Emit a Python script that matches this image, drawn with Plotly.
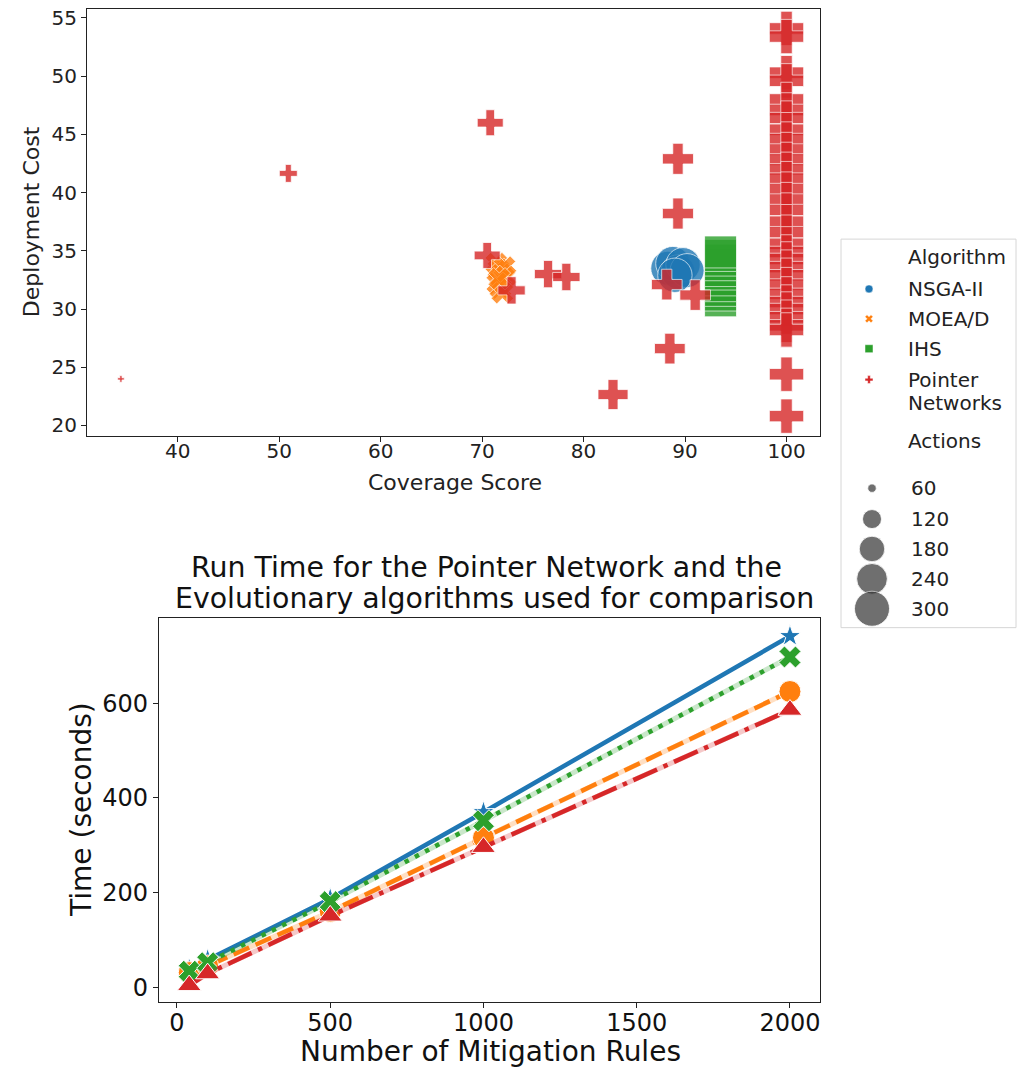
import numpy as np
import plotly.graph_objects as go

W, H = 1030, 1069
FONT = "DejaVu Sans"

# ---------------- Top chart data (Coverage vs Cost) ----------------
algorithms = ["NSGA-II", "MOEA/D", "IHS", "Pointer Networks"]
colors = ["#1f77b4", "#ff7f0e", "#2ca02c", "#d62728"]
symbols = ["circle", "x", "square", "cross"]

nsga_cov = [88.3, 88.8, 89.3, 89.8, 90.2, 89.0]
nsga_cost = [33.5, 33.9, 33.2, 33.8, 33.3, 32.9]
nsga_actions = [285, 290, 285, 290, 285, 290]

moea_cov = [71.4, 71.6, 71.9, 72.2, 72.3, 71.5, 71.8, 72.0, 71.7]
moea_cost = [33.9, 33.4, 33.0, 33.6, 32.8, 32.2, 31.8, 31.4, 32.6]
moea_actions = [150, 150, 150, 150, 150, 150, 150, 150, 150]

ihs_cov = [93.5, 93.5, 93.5, 93.5, 93.5, 93.5, 93.5, 93.5, 93.5, 93.5, 93.5]
ihs_cost = [30.7, 31.2, 31.6, 32.0, 32.5, 33.0, 33.3, 33.8, 34.2, 34.6, 34.9]
ihs_actions = [257, 257, 257, 257, 257, 257, 257, 257, 257, 257, 257]

ptr_cov = [34.4, 50.9, 70.8, 70.5, 72.9, 76.5, 78.3, 82.9, 89.3, 89.3, 88.2, 91.0, 88.5,
           100, 100, 100, 100, 100, 100, 100, 100, 100, 100, 100, 100, 100, 100, 100, 100,
           100, 100, 100, 100, 100, 100, 100, 100, 100, 100, 100, 100, 100, 100, 100, 100]
ptr_cost = [24.0, 41.65, 46.0, 34.6, 31.6, 33.0, 32.75, 22.65, 42.9, 38.2, 32.1, 31.2, 26.6,
            54.1, 53.4, 50.3, 49.6, 48.0, 47.1, 46.4, 45.4, 44.6, 43.7, 42.85, 42.0, 41.2, 40.3,
            39.4, 38.5, 37.5, 36.6, 35.6, 34.9, 34.3, 33.6, 32.9, 32.1, 31.3, 30.6, 30.0, 29.3,
            28.6, 28.2, 24.4, 20.8]
ptr_actions = [55, 112, 185, 185, 200, 200, 200, 232, 245, 245, 240, 240, 240,
               290, 290, 290, 290, 290, 290, 290, 290, 290, 290, 290, 290, 290, 290, 290, 290,
               290, 290, 290, 290, 290, 290, 290, 290, 290, 290, 290, 290, 290, 290, 290, 290]

size_levels = [60, 120, 180, 240, 300]

# ---------------- Bottom chart data (Run time) ----------------
rules = [40, 100, 500, 1000, 2000]
nsga_time = [38, 58, 187, 370, 742]
moea_time = [31, 45, 160, 316, 625]
ihs_time = [34, 52, 181, 352, 698]
ptr_time = [4, 29, 151, 296, 586]

run_symbols = ["star", "circle", "x", "triangle-up"]
run_dash = ["solid", "17px,7px", "4.5px,7px", "26px,7px,4.5px,7px"]
run_halo = [None, "rgba(255,127,14,0.25)", "rgba(44,160,44,0.25)", "rgba(214,39,40,0.25)"]
run_marker_px = [22, 22, 22, 24]

SYM_FACTOR = {"circle": 1.0, "square": 1.0, "cross": 1.2, "x": 1.13,
              "star": 1.33, "triangle-up": 1.15}


def extent_px(actions):
    a = np.asarray(actions, dtype=float)
    return np.sqrt(np.maximum(72 + (a - 60) * 4.82, 30))


def px(x):
    return x / W


def py(y):
    return 1 - y / H


fig = go.Figure()

top_data = [(nsga_cov, nsga_cost, nsga_actions), (moea_cov, moea_cost, moea_actions),
            (ihs_cov, ihs_cost, ihs_actions), (ptr_cov, ptr_cost, ptr_actions)]
for name, col, sym, (cx, cy, ca) in zip(algorithms, colors, symbols, top_data):
    fig.add_trace(go.Scatter(
        x=cx, y=cy, mode="markers", name=name, showlegend=False,
        xaxis="x", yaxis="y",
        marker=dict(symbol=sym, color=col, opacity=0.8,
                    size=extent_px(ca) / SYM_FACTOR[sym],
                    line=dict(color="white", width=0.8)),
    ))

bottom_data = [nsga_time, moea_time, ihs_time, ptr_time]
for name, col, sym, dash, halo, mpx, t in zip(algorithms, colors, run_symbols, run_dash,
                                              run_halo, run_marker_px, bottom_data):
    if halo:
        fig.add_trace(go.Scatter(x=rules, y=t, mode="lines", showlegend=False,
                                 xaxis="x2", yaxis="y2", hoverinfo="skip",
                                 line=dict(color=halo, width=5)))
    fig.add_trace(go.Scatter(
        x=rules, y=t, mode="lines+markers", name=name, showlegend=False,
        xaxis="x2", yaxis="y2",
        line=dict(color=col, width=4.5, dash=dash),
        marker=dict(symbol=sym, color=col, size=mpx / SYM_FACTOR[sym],
                    line=dict(color="white", width=1)),
    ))

# ---------------- Custom legend panel ----------------
alg_y = [50, 80, 110, 141]
for name, col, sym, yy in zip(algorithms, colors, symbols, alg_y):
    fig.add_trace(go.Scatter(x=[28], y=[yy], mode="markers", showlegend=False,
                             xaxis="x3", yaxis="y3", hoverinfo="skip",
                             marker=dict(symbol=sym, color=col, size=8 / SYM_FACTOR[sym],
                                         line=dict(color="white", width=0.5))))
size_y = [250, 281, 311, 341, 371]
fig.add_trace(go.Scatter(x=[31] * len(size_levels), y=size_y, mode="markers", showlegend=False,
                         xaxis="x3", yaxis="y3", hoverinfo="skip",
                         marker=dict(symbol="circle", color="#333333",
                                     size=extent_px(size_levels),
                                     line=dict(color="white", width=0.8))))

annotations = []
leg_font = dict(family=FONT, size=20, color="#222")


def leg_text(x, y, text):
    annotations.append(dict(x=x, y=y, xref="x3", yref="y3", text=text, showarrow=False,
                            xanchor="left", yanchor="middle", font=leg_font))


leg_text(65, 18, "Algorithm")
leg_text(65, 50, "NSGA-II")
leg_text(65, 80, "MOEA/D")
leg_text(65, 110, "IHS")
leg_text(65, 141, "Pointer")
leg_text(65, 164, "Networks")
leg_text(65, 203, "Actions")
for lv, yy in zip(size_levels, size_y):
    leg_text(68, yy, str(lv))

# axis titles / chart title
annotations += [
    dict(x=px(455), y=py(481), xref="paper", yref="paper", text="Coverage Score",
         showarrow=False, xanchor="center", yanchor="middle",
         font=dict(family=FONT, size=22, color="#222")),
    dict(x=px(31), y=py(220), xref="paper", yref="paper", text="Deployment Cost",
         showarrow=False, xanchor="center", yanchor="middle", textangle=-90,
         font=dict(family=FONT, size=22, color="#222")),
    dict(x=px(490), y=py(1052), xref="paper", yref="paper", text="Number of Mitigation Rules",
         showarrow=False, xanchor="center", yanchor="middle",
         font=dict(family=FONT, size=28, color="#111")),
    dict(x=px(82), y=py(810), xref="paper", yref="paper", text="Time (seconds)",
         showarrow=False, xanchor="center", yanchor="middle", textangle=-90,
         font=dict(family=FONT, size=28, color="#111")),
    dict(x=px(486), y=py(567), xref="paper", yref="paper",
         text="Run Time for the Pointer Network and the",
         showarrow=False, xanchor="center", yanchor="middle",
         font=dict(family=FONT, size=28.4, color="#111")),
    dict(x=px(494), y=py(598), xref="paper", yref="paper",
         text="Evolutionary algorithms used for comparison",
         showarrow=False, xanchor="center", yanchor="middle",
         font=dict(family=FONT, size=28.4, color="#111")),
]

axis_common = dict(showline=True, linecolor="#222", linewidth=1.2, mirror=True,
                   ticks="outside", ticklen=5, tickwidth=1.2, tickcolor="#222",
                   showgrid=False, zeroline=False)

fig.update_layout(
    width=W, height=H,
    margin=dict(l=0, r=0, t=0, b=0),
    paper_bgcolor="white", plot_bgcolor="white",
    font=dict(family=FONT, color="#222"),
    showlegend=False,
    xaxis=dict(domain=[px(87), px(820)], range=[31.06, 103.3], anchor="y",
               tickvals=[40, 50, 60, 70, 80, 90, 100], ticklabelstandoff=-8,
               tickfont=dict(family=FONT, size=20, color="#222"), **axis_common),
    yaxis=dict(domain=[py(435), py(6)], range=[19.06, 55.77], anchor="x",
               tickvals=[20, 25, 30, 35, 40, 45, 50, 55],
               tickfont=dict(family=FONT, size=20, color="#222"), **axis_common),
    xaxis2=dict(domain=[px(159), px(820)], range=[-58.7, 2098], anchor="y2",
                tickvals=[0, 500, 1000, 1500, 2000], ticklabelstandoff=-6,
                tickfont=dict(family=FONT, size=24, color="#111"), **axis_common),
    yaxis2=dict(domain=[py(1003), py(617)], range=[-31.6, 781], anchor="x2",
                tickvals=[0, 200, 400, 600],
                tickfont=dict(family=FONT, size=24, color="#111"), **axis_common),
    xaxis3=dict(domain=[px(841), px(1016)], range=[0, 175], visible=False, anchor="y3",
                fixedrange=True),
    yaxis3=dict(domain=[py(627), py(237)], range=[390, 0], visible=False, anchor="x3",
                fixedrange=True),
    annotations=annotations,
    shapes=[dict(type="rect", xref="paper", yref="paper",
                 x0=px(841), x1=px(1016), y0=py(627), y1=py(237),
                 line=dict(color="#d6d6d6", width=1), fillcolor="rgba(0,0,0,0)", layer="below")],
)

fig.write_html("out.html", config={"displayModeBar": False},
               post_script="document.body.style.margin='0';")
